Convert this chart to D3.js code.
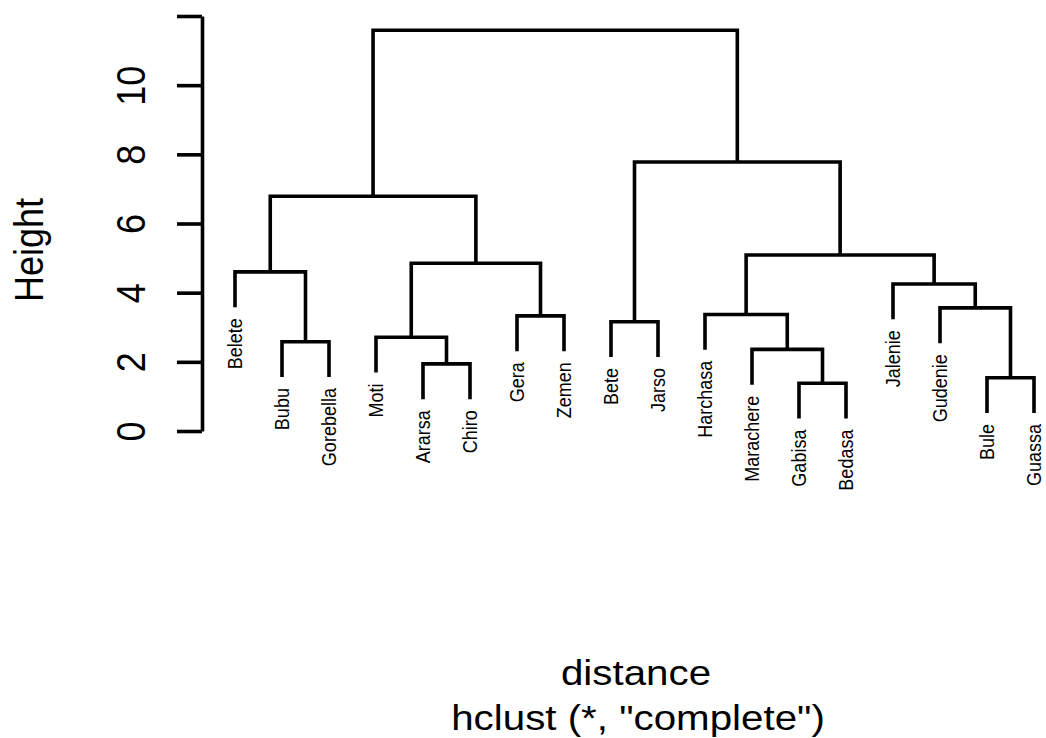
<!DOCTYPE html>
<html>
<head>
<meta charset="utf-8">
<script src="https://cdn.jsdelivr.net/npm/d3@7"></script>
<style>
  body { margin: 0; background: #fff; }
  text { font-family: "Liberation Sans", Arial, sans-serif; fill: #000; }
</style>
</head>
<body>
<div id="chart"></div>
<script>
// leaf labels, in plotted order (left to right)
const leaves = ["Belete", "Bubu", "Gorebella", "Moti", "Ararsa", "Chiro", "Gera", "Zemen",
  "Bete", "Jarso", "Harchasa", "Marachere", "Gabisa", "Bedasa", "Jalenie", "Gudenie", "Bule", "Guassa"];

// merge steps like R's hclust$merge: negative = leaf number (1-based, plotted order),
// positive = an earlier merge step
const mergeLeft   = [-13, -17, -5, -12, -2, -4, -9, -7, -11, -16, -15, -1, 6, 9, 12, 7, 15];
const mergeRight  = [-14, -18, -6, 1, -3, 3, -10, -8, 4, 2, 10, 5, 8, 11, 13, 14, 16];
const mergeHeight = [1.38, 1.54, 1.94, 2.36, 2.58, 2.71, 3.16, 3.33, 3.37, 3.56, 4.25, 4.60, 4.85, 5.09, 6.79, 7.78, 11.59];

const tickValues = [0, 2, 4, 6, 8, 10, 12];
const tickLabels = ["0", "2", "4", "6", "8", "10", ""];
const yTitle = "Height";
const xTitle = "distance";
const subTitle = 'hclust (*, "complete")';

const width = 1046, height = 738;
const stretch = "scale(1.12,1)"; // the reference text is a bit wide

const svg = d3.select("#chart").append("svg")
    .attr("width", width)
    .attr("height", height);

svg.append("rect").attr("width", width).attr("height", height).attr("fill", "#fff");

const x = d3.scaleLinear().domain([1, leaves.length]).range([235, 1034]);
const y = d3.scaleLinear().domain([0, 12]).range([431, 16]);

// R hangs the leaves 10% of the height range below their merge
const hang = 0.1 * (d3.max(mergeHeight) - d3.min(mergeHeight));

// work out x position of every merge, and where each child line stops
const mergeX = [];
const leafBottom = {};
const segs = [];
mergeHeight.forEach((h, i) => {
    const kids = [mergeLeft[i], mergeRight[i]].map(ref => {
        if (ref < 0) {
            leafBottom[-ref] = h - hang;
            return { x: x(-ref), bottom: h - hang };
        }
        return { x: mergeX[ref - 1], bottom: mergeHeight[ref - 1] };
    });
    mergeX[i] = (kids[0].x + kids[1].x) / 2;
    segs.push({ h: h, a: kids[0], b: kids[1] });
});

// dendrogram branches
svg.append("g")
    .selectAll("path")
    .data(segs)
    .join("path")
    .attr("d", d => `M${d.a.x},${y(d.a.bottom)}V${y(d.h)}H${d.b.x}V${y(d.b.bottom)}`)
    .attr("fill", "none")
    .attr("stroke", "#000")
    .attr("stroke-width", 3.6)
    .attr("stroke-linejoin", "miter");

// leaf labels, rotated
svg.append("g")
    .selectAll("text")
    .data(leaves)
    .join("text")
    .attr("transform", (d, i) => `translate(${x(i + 1)},${y(leafBottom[i + 1]) + 11}) ${stretch} rotate(-90)`)
    .attr("text-anchor", "end")
    .attr("dy", "0.36em")
    .style("font-size", "18px")
    .text(d => d);

// y axis
const yAxis = d3.axisLeft(y)
    .tickValues(tickValues)
    .tickFormat((d, i) => tickLabels[i])
    .tickSize(25)
    .tickSizeOuter(0);

const gAxis = svg.append("g")
    .attr("transform", "translate(202,0)")
    .call(yAxis)
    .attr("font-size", null)
    .attr("font-family", null);

gAxis.select(".domain").attr("stroke-width", 3.6);
gAxis.selectAll(".tick line").attr("stroke-width", 3.6);
gAxis.selectAll(".tick text")
    .attr("x", null)
    .attr("dy", null)
    .attr("text-anchor", "middle")
    .attr("transform", `translate(-57,0) ${stretch} rotate(-90)`)
    .style("font-size", "36px");

// titles
svg.append("text")
    .attr("transform", `translate(43,250) ${stretch} rotate(-90)`)
    .attr("text-anchor", "middle")
    .style("font-size", "36px")
    .text(yTitle);

svg.append("text")
    .attr("transform", `translate(636,685) ${stretch}`)
    .attr("text-anchor", "middle")
    .style("font-size", "36px")
    .text(xTitle);

svg.append("text")
    .attr("transform", `translate(638,730) ${stretch}`)
    .attr("text-anchor", "middle")
    .style("font-size", "36px")
    .text(subTitle);
</script>
</body>
</html>
